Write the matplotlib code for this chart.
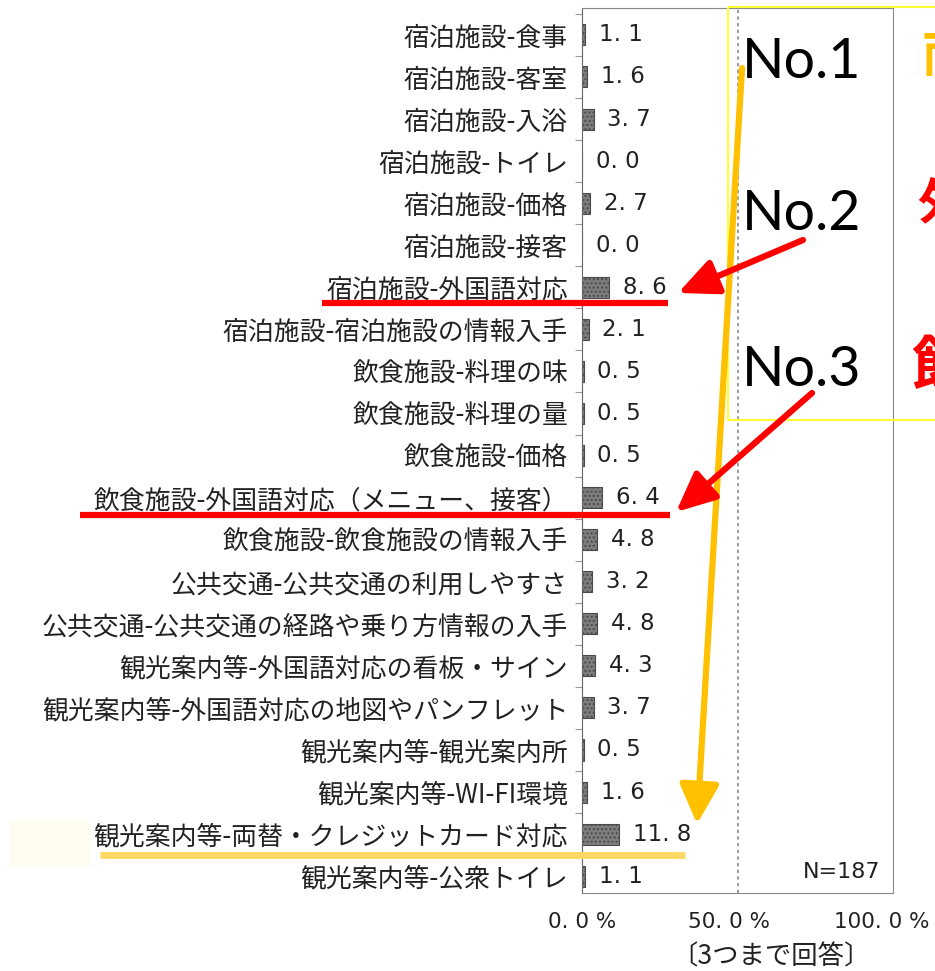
import matplotlib
matplotlib.use("Agg")
import matplotlib.pyplot as plt
import matplotlib.transforms as mtransforms
from matplotlib.patches import Rectangle
import numpy as np

plt.rcParams['font.family'] = ['Noto Sans CJK JP', 'DejaVu Sans']

categories = [
    "宿泊施設-食事", "宿泊施設-客室", "宿泊施設-入浴", "宿泊施設-トイレ",
    "宿泊施設-価格", "宿泊施設-接客", "宿泊施設-外国語対応",
    "宿泊施設-宿泊施設の情報入手", "飲食施設-料理の味", "飲食施設-料理の量",
    "飲食施設-価格", "飲食施設-外国語対応（メニュー、接客）",
    "飲食施設-飲食施設の情報入手", "公共交通-公共交通の利用しやすさ",
    "公共交通-公共交通の経路や乗り方情報の入手",
    "観光案内等-外国語対応の看板・サイン",
    "観光案内等-外国語対応の地図やパンフレット",
    "観光案内等-観光案内所", "観光案内等-WI-FI環境",
    "観光案内等-両替・クレジットカード対応", "観光案内等-公衆トイレ",
]
values = [1.1, 1.6, 3.7, 0.0, 2.7, 0.0, 8.6, 2.1, 0.5, 0.5, 0.5, 6.4,
          4.8, 3.2, 4.8, 4.3, 3.7, 0.5, 1.6, 11.8, 1.1]
xticks = [0, 50, 100]
xtick_labels = ["0. 0 %", "50. 0 %", "100. 0 %"]

W, H = 935, 971
fig = plt.figure(figsize=(W / 100, H / 100), dpi=100)
ax = fig.add_axes([582 / W, 1 - 893 / H, (893 - 582) / W, (893 - 8) / H])

y = np.arange(len(categories))
ax.barh(y, values, height=0.5, color="#7e7e7e", edgecolor="#4a4a4a",
        linewidth=0.8, hatch="....")
for yi, v in zip(y, values):
    ax.annotate(f"{v:.1f}".replace(".", ". "), (v, yi), xytext=(10, 0),
                textcoords="offset points", va="center", ha="left",
                fontsize=16.5, family="DejaVu Sans", color="#222222")

ax.set_xlim(0, 100)
ax.set_ylim(20.4, -0.64)
ax.set_yticks(y)
ax.set_yticklabels(categories, fontsize=18.6, color="#222222")
ax.tick_params(axis="y", length=0, pad=10)
ax.set_yticks(np.arange(-0.5, 20.5, 1), minor=True)
ax.tick_params(axis="y", which="minor", length=5, color="#999999", width=0.8)
ax.set_xticks(xticks)
ax.set_xticklabels(xtick_labels, fontsize=15.5, family="DejaVu Sans",
                   color="#222222")
ax.tick_params(axis="x", length=0, pad=14)
# the printed labels sit a little left of their ticks
shifts = [0, -8, -11]
for lab, dx in zip(ax.get_xticklabels(), shifts):
    lab.set_transform(lab.get_transform() +
                      mtransforms.ScaledTranslation(dx / 100, 0, fig.dpi_scale_trans))
for s in ["top", "right", "bottom"]:
    ax.spines[s].set_linestyle((0, (1, 1)))
    ax.spines[s].set_color("#888888")
ax.spines["left"].set_color("#666666")
ax.axvline(50, color="#888888", linestyle=(0, (2, 2)), linewidth=1.2)
ax.text(0.96, 0.012, "N=187", transform=ax.transAxes, ha="right",
        va="bottom", fontsize=16, family="DejaVu Sans", color="#222222")
fig.text(771 / W, 1 - 957 / H, "〔3つまで回答〕", ha="center", va="center",
         fontsize=19, color="#222222")

# overlay annotations (pixel coordinates)
ov = fig.add_axes([0, 0, 1, 1], facecolor="none")
ov.set_xlim(0, W)
ov.set_ylim(H, 0)
ov.axis("off")

ov.add_patch(Rectangle((10, 820), 80, 45, color="#fffdf2", zorder=0))
ov.add_patch(Rectangle((728, 7), 260, 413, fill=False, edgecolor="#ffff33",
                       linewidth=1.5))
for ty, t in [(62, "No.1"), (215, "No.2"), (370, "No.3")]:
    ov.text(742, ty, t, fontsize=40, family="Lato", va="center", ha="left",
            color="black")

ov.text(922, 58, "両替", fontsize=36, fontweight="bold", color="#ffc000",
        va="center", ha="left")
ov.text(917, 206, "外国", fontsize=36, fontweight="bold", color="#ff0000",
        va="center", ha="left")
ov.text(911, 368, "飲食", fontsize=44, fontweight="bold", color="#ff0000",
        va="center", ha="left")

ov.plot([322, 668], [303, 303], color="#ff0000", linewidth=4.5,
        solid_capstyle="butt")
ov.plot([80, 670], [515, 515], color="#ff0000", linewidth=4.5,
        solid_capstyle="butt")
ov.plot([100, 685], [855, 855], color="#ffd966", linewidth=5,
        solid_capstyle="butt")

ov.annotate("", xy=(697, 824), xytext=(742, 68),
            arrowprops=dict(arrowstyle="-|>,head_length=2.4,head_width=1.2",
                            color="#ffc000", lw=4.5, shrinkA=0, shrinkB=0))
ov.annotate("", xy=(678, 293), xytext=(803, 240),
            arrowprops=dict(arrowstyle="-|>,head_length=2.4,head_width=1.1",
                            color="#ff0000", lw=4.5, shrinkA=0, shrinkB=0))
ov.annotate("", xy=(676, 512), xytext=(812, 393),
            arrowprops=dict(arrowstyle="-|>,head_length=2.4,head_width=1.1",
                            color="#ff0000", lw=4.5, shrinkA=0, shrinkB=0))

fig.savefig("out.png", dpi=100)
